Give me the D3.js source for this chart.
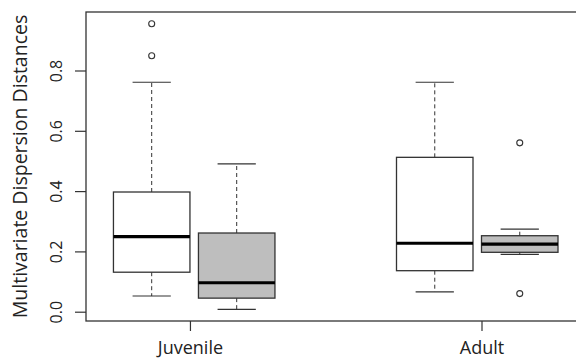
<!DOCTYPE html>
<html>
<head>
<meta charset="utf-8">
<script src="https://cdn.jsdelivr.net/npm/d3@7"></script>
<style>
  body { margin: 0; background: #fff; }
  text { font-family: "Open Sans", sans-serif; fill: #222; }
</style>
</head>
<body>
<div class="container"></div>
<script>
// box stats
const groups = ["Juvenile", "Adult"]
const groupPos = [1.45, 4.88]
const boxPos = [1, 2, 4.33, 5.33]
const boxFill = ["#ffffff", "#bebebe", "#ffffff", "#bebebe"]
const lowWhisker = [0.052, 0.008, 0.066, 0.190]
const q1 = [0.131, 0.045, 0.136, 0.197]
const medians = [0.249, 0.096, 0.227, 0.224]
const q3 = [0.397, 0.261, 0.512, 0.252]
const highWhisker = [0.761, 0.490, 0.761, 0.274]
const outliers = [[0.955, 0.849], [], [], [0.560, 0.060]]
const yTicks = [0.0, 0.2, 0.4, 0.6, 0.8]

const w = 576
const h = 359
const plotLeft = 86, plotTop = 12, plotBottom = 321

const svg = d3.select(".container")
  .append("svg")
  .attr("width", w)
  .attr("height", h)

const y = d3.scaleLinear().domain([0, 0.8]).range([311.7, 70.5])
const x = d3.scaleLinear().domain([0, 6]).range([66.7, 66.7 + 6 * 85])
const bw = 0.9 * 85 / 2

const data = boxPos.map((p, i) => ({
  p: p, fill: boxFill[i], lo: lowWhisker[i], q1: q1[i], med: medians[i],
  q3: q3[i], hi: highWhisker[i], out: outliers[i]
}))

const box = svg.selectAll(".box")
  .data(data)
  .enter()
  .append("g")
  .attr("class", "box")

// whiskers (dashed)
box.append("line")
  .attr("x1", d => x(d.p)).attr("x2", d => x(d.p))
  .attr("y1", d => y(d.q3)).attr("y2", d => y(d.hi))
  .attr("stroke", "#333").attr("stroke-dasharray", "4,3")
box.append("line")
  .attr("x1", d => x(d.p)).attr("x2", d => x(d.p))
  .attr("y1", d => y(d.q1)).attr("y2", d => y(d.lo))
  .attr("stroke", "#333").attr("stroke-dasharray", "4,3")

// staples
box.selectAll(".staple")
  .data(d => [d.lo, d.hi].map(v => ({ p: d.p, v: v })))
  .enter()
  .append("line")
  .attr("x1", d => x(d.p) - bw / 2).attr("x2", d => x(d.p) + bw / 2)
  .attr("y1", d => y(d.v)).attr("y2", d => y(d.v))
  .attr("stroke", "#333").attr("stroke-width", 1.2)

box.append("rect")
  .attr("x", d => x(d.p) - bw)
  .attr("width", 2 * bw)
  .attr("y", d => y(d.q3))
  .attr("height", d => y(d.q1) - y(d.q3))
  .attr("fill", d => d.fill)
  .attr("stroke", "#333").attr("stroke-width", 1.3)

box.append("line")
  .attr("x1", d => x(d.p) - bw).attr("x2", d => x(d.p) + bw)
  .attr("y1", d => y(d.med)).attr("y2", d => y(d.med))
  .attr("stroke", "#000").attr("stroke-width", 3.2)

box.selectAll("circle")
  .data(d => d.out.map(v => ({ p: d.p, v: v })))
  .enter()
  .append("circle")
  .attr("cx", d => x(d.p)).attr("cy", d => y(d.v))
  .attr("r", 3)
  .attr("fill", "none").attr("stroke", "#333").attr("stroke-width", 1.1)

// plot frame
svg.append("rect")
  .attr("x", plotLeft).attr("y", plotTop)
  .attr("width", w + 10 - plotLeft).attr("height", plotBottom - plotTop)
  .attr("fill", "none").attr("stroke", "#333").attr("stroke-width", 1.3)

// y axis
const yAxis = svg.append("g")
  .attr("transform", `translate(${plotLeft},0)`)
  .call(d3.axisLeft(y).tickValues(yTicks).tickFormat(d3.format(".1f")).tickSize(11).tickPadding(0))
yAxis.select(".domain").remove()
yAxis.selectAll(".tick line").attr("stroke", "#333").attr("stroke-width", 1.2)
yAxis.selectAll(".tick text")
  .attr("transform", "rotate(-90)")
  .attr("x", 0).attr("y", -24).attr("dy", 0)
  .attr("text-anchor", "middle")
  .style("font-family", "Open Sans, sans-serif")
  .style("font-size", "16px").style("fill", "#222")

// x axis
const xAxis = svg.append("g")
  .attr("transform", `translate(0,${plotBottom})`)
  .call(d3.axisBottom(x).tickValues(groupPos).tickFormat((d, i) => groups[i]).tickSize(10).tickPadding(10))
xAxis.select(".domain").remove()
xAxis.selectAll(".tick line").attr("stroke", "#333").attr("stroke-width", 1.2)
xAxis.selectAll(".tick text")
  .style("font-family", "Open Sans, sans-serif")
  .style("font-size", "18px").style("fill", "#222")

svg.append("text")
  .attr("transform", `translate(27,${(plotTop + plotBottom) / 2}) rotate(-90)`)
  .attr("text-anchor", "middle")
  .style("font-size", "19.5px")
  .text("Multivariate Dispersion Distances")
</script>
</body>
</html>
